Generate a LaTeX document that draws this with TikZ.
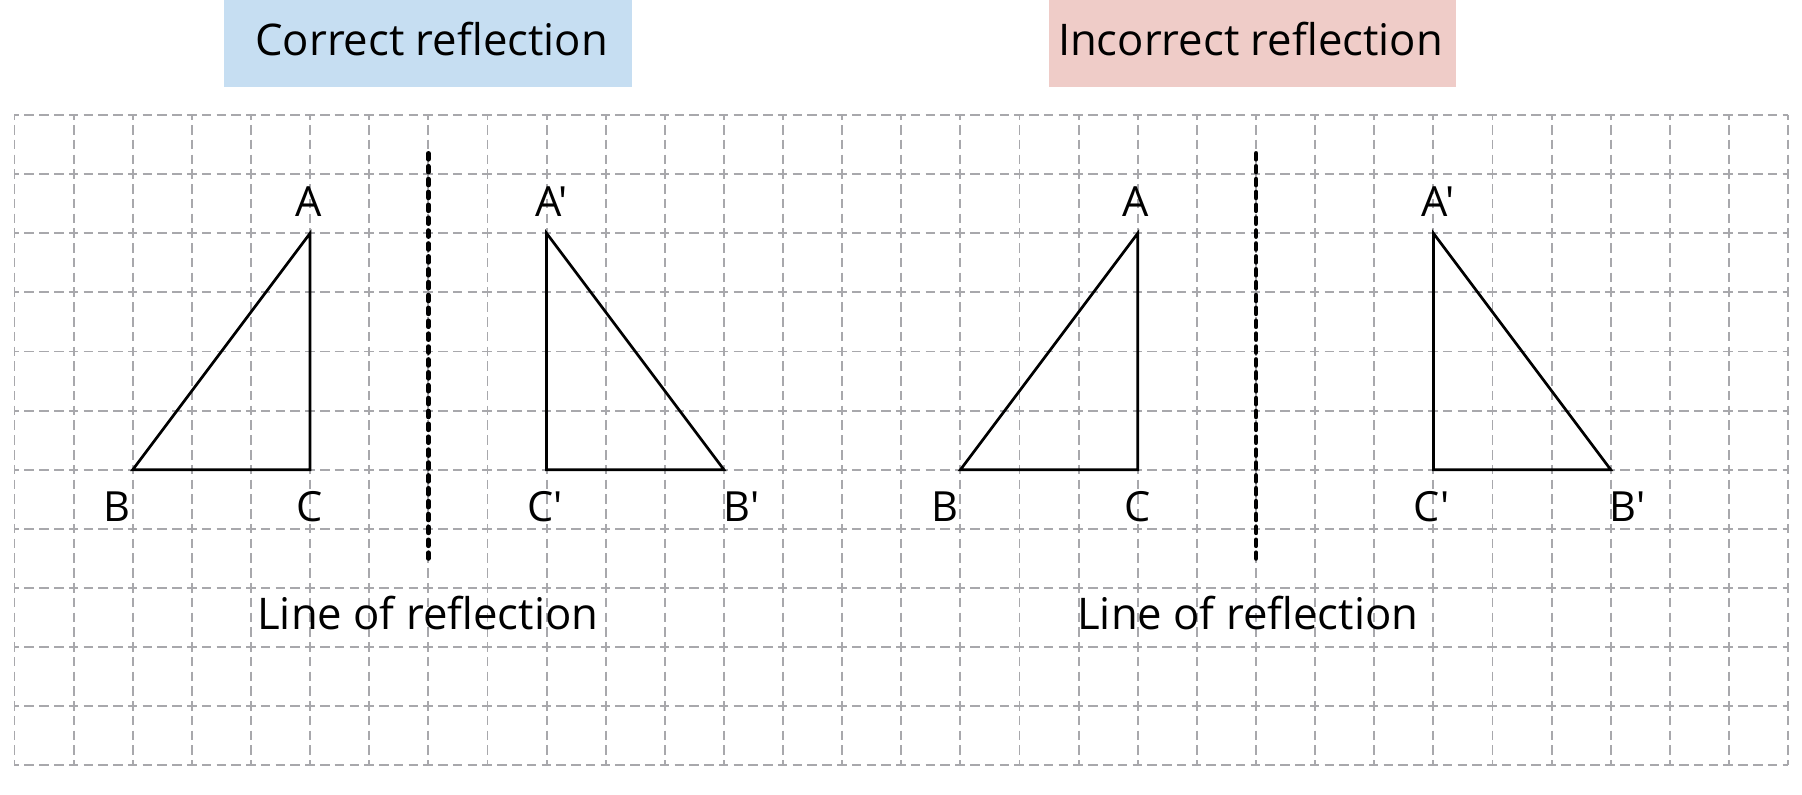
\documentclass[tikz,border=0pt]{standalone}
\usepackage{fontspec}
\setmainfont{Open Sans}[Ligatures=TeXOff]
\usetikzlibrary{calc}
\definecolor{titleblue}{RGB}{198,222,242}
\definecolor{titlepink}{RGB}{239,204,200}
\definecolor{gridgray}{RGB}{168,168,172}
\begin{document}
\begin{tikzpicture}[x=1cm,y=1cm,
  gridline/.style={draw=gridgray, line width=0.9pt, dash pattern=on 4.6pt off 2.51pt, dash phase=2.3pt},
  tri/.style={draw=black, line width=1.3pt, line join=miter},
  mirror/.style={draw=black, line width=2.3pt, line cap=round, dash pattern=on 2.8pt off 3.4pt},
  titlebox/.style={inner sep=0pt, outer sep=0pt, minimum width=6.9cm, minimum height=1.476cm},
  titletext/.style={font=\fontsize{21}{25}\selectfont, inner sep=0pt, anchor=base},
  vlbl/.style={font=\fontsize{20}{24}\selectfont, inner sep=0pt}]
\useasboundingbox (-0.245,-11.502) rectangle (30.235,1.945);
% title boxes
\node[titlebox, fill=titleblue] (boxL) at (6.992,1.207) {};
\node[titlebox, fill=titlepink] (boxR) at (20.94,1.207) {};
\node[titletext] (titleL) at (7.057,0.998) {Correct reflection};
\node[titletext] (titleR) at (20.906,0.998) {Incorrect reflection};
% grid
\foreach \i in {0,...,30} \draw[gridline] (\i,0) -- (\i,-11);
\foreach \j in {0,...,11} \draw[gridline] (0,-\j) -- (30,-\j);
% left panel
\coordinate (A1) at (5,-2);
\coordinate (B1) at (2,-6);
\coordinate (C1) at (5,-6);
\coordinate (A2) at (9,-2);
\coordinate (B2) at (12,-6);
\coordinate (C2) at (9,-6);
\coordinate (M1t) at (7,-0.65);
\coordinate (M1b) at (7,-7.5);
\draw[tri] (A1) -- (B1) -- (C1) -- cycle;
\draw[tri] (A2) -- (B2) -- (C2) -- cycle;
\draw[mirror] (M1t) -- (M1b);
\node[vlbl, anchor=base] (lA1) at ($(A1)+(-0.03,0.28)$) {A};
\node[vlbl, anchor=base east] (lB1) at ($(B1)+(-0.03,-0.875)$) {B};
\node[vlbl, anchor=base] (lC1) at ($(C1)+(0,-0.875)$) {C};
\node[vlbl, anchor=base] (lA2) at ($(A2)+(0.08,0.28)$) {A'};
\node[vlbl, anchor=base west] (lB2) at ($(B2)+(-0.02,-0.875)$) {B'};
\node[vlbl, anchor=base] (lC2) at ($(C2)+(-0.03,-0.875)$) {C'};
\node[titletext] (lineL) at (6.99,-8.711) {Line of reflection};
% right panel
\coordinate (A3) at (19,-2);
\coordinate (B3) at (16,-6);
\coordinate (C3) at (19,-6);
\coordinate (A4) at (24,-2);
\coordinate (B4) at (27,-6);
\coordinate (C4) at (24,-6);
\coordinate (M2t) at (21,-0.65);
\coordinate (M2b) at (21,-7.5);
\draw[tri] (A3) -- (B3) -- (C3) -- cycle;
\draw[tri] (A4) -- (B4) -- (C4) -- cycle;
\draw[mirror] (M2t) -- (M2b);
\node[vlbl, anchor=base] (lA3) at ($(A3)+(-0.03,0.28)$) {A};
\node[vlbl, anchor=base east] (lB3) at ($(B3)+(-0.03,-0.875)$) {B};
\node[vlbl, anchor=base] (lC3) at ($(C3)+(0,-0.875)$) {C};
\node[vlbl, anchor=base] (lA4) at ($(A4)+(0.08,0.28)$) {A'};
\node[vlbl, anchor=base west] (lB4) at ($(B4)+(-0.02,-0.875)$) {B'};
\node[vlbl, anchor=base] (lC4) at ($(C4)+(-0.03,-0.875)$) {C'};
\node[titletext] (lineR) at (20.86,-8.711) {Line of reflection};
\end{tikzpicture}
\end{document}
